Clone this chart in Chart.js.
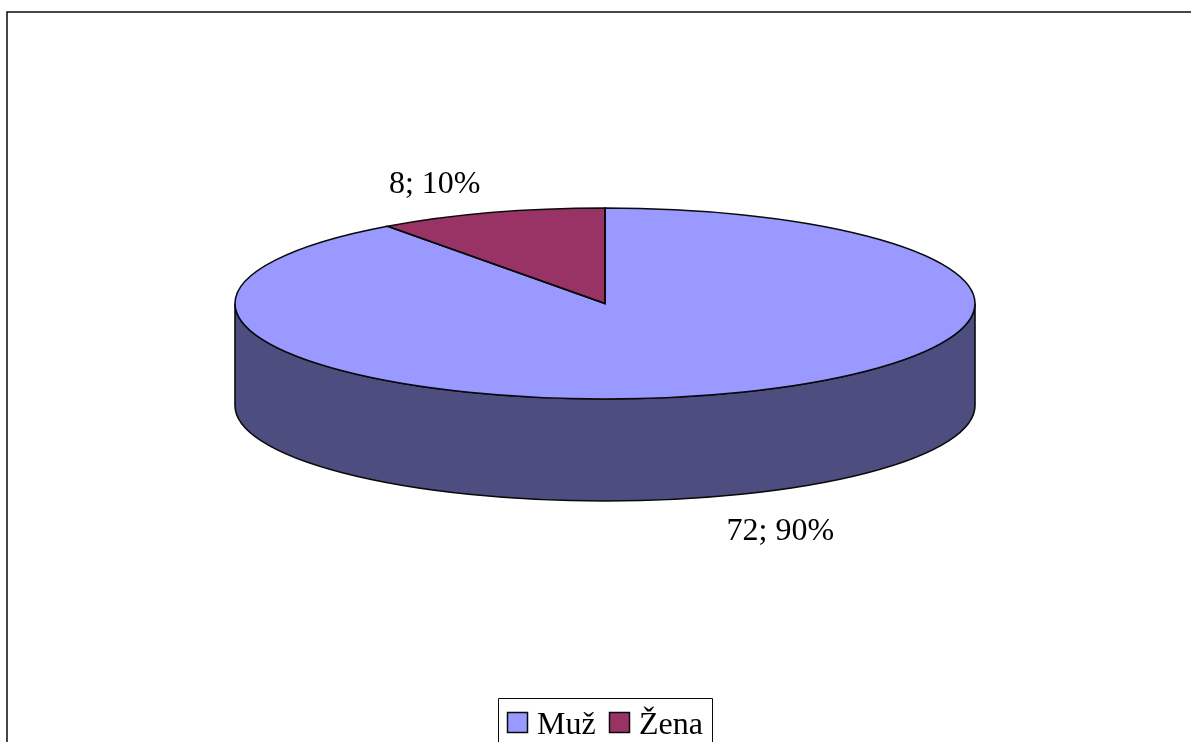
<!DOCTYPE html>
<html>
<head>
<meta charset="utf-8">
<style>
  html, body { margin: 0; padding: 0; background: #fff; overflow: hidden; }
  canvas { display: block; }
</style>
<script src="https://cdn.jsdelivr.net/npm/chart.js@4"></script>
</head>
<body>
<canvas id="chart" width="1191" height="742"></canvas>
<script>
var categories = ['Muž', 'Žena'];
var values = [72, 8];
var sliceColors = ['#9999ff', '#993366'];
var wallColors = ['#4d4d80', '#4d1a33'];
var labelOffsets = [[61, 43.5], [-56, -19.5]];

var FONT = '32px "Liberation Serif"';
var LINE = '#0a0a0a';
var centerX = 605, centerY = 303.5;
var radiusX = 370, radiusY = 95.5, depth = 102;

// the pie is flat in Chart.js, so squash it into an ellipse around our center
function project(ctx, arc) {
  ctx.translate(centerX, centerY);
  ctx.scale(1, radiusY / arc.outerRadius);
  ctx.translate(-arc.x, -arc.y);
}

var pie3d = {
  id: 'pie3d',
  beforeDatasetsDraw: function(chart) {
    let ctx = chart.ctx;
    // side wall, only the front half of the ellipse shows
    chart.getDatasetMeta(0).data.forEach(function(arc, i) {
      let a = Math.max(arc.startAngle, 0);
      let b = Math.min(arc.endAngle, Math.PI);
      if (a >= b) return;
      ctx.beginPath();
      ctx.ellipse(centerX, centerY, arc.outerRadius, radiusY, 0, a, b);
      ctx.ellipse(centerX, centerY + depth, arc.outerRadius, radiusY, 0, b, a, true);
      ctx.closePath();
      ctx.fillStyle = wallColors[i];
      ctx.fill();
      ctx.strokeStyle = LINE;
      ctx.lineWidth = 1.6;
      ctx.stroke();
    });
    ctx.save();
    project(ctx, chart.getDatasetMeta(0).data[0]);
  },
  afterDatasetsDraw: function(chart) {
    let ctx = chart.ctx;
    ctx.restore();
    let meta = chart.getDatasetMeta(0);
    let total = values.reduce(function(s, v) { return s + v; }, 0);
    meta.data.forEach(function(arc, i) {
      // build the outline under the squash, stroke it without, so the line width stays even
      ctx.save();
      project(ctx, arc);
      ctx.beginPath();
      ctx.moveTo(arc.x, arc.y);
      ctx.arc(arc.x, arc.y, arc.outerRadius, arc.startAngle, arc.endAngle);
      ctx.closePath();
      ctx.restore();
      ctx.strokeStyle = LINE;
      ctx.lineWidth = 1.6;
      ctx.stroke();

      // data label hangs off the middle of the slice rim
      let mid = (arc.startAngle + arc.endAngle) / 2;
      let rimX = centerX + Math.cos(mid) * arc.outerRadius;
      let rimY = centerY + Math.sin(mid) * radiusY + (Math.sin(mid) > 0 ? depth : 0);
      ctx.fillStyle = '#000';
      ctx.font = FONT;
      ctx.textAlign = 'center';
      ctx.textBaseline = 'alphabetic';
      ctx.fillText(values[i] + '; ' + Math.round(values[i] / total * 100) + '%',
        rimX + labelOffsets[i][0], rimY + labelOffsets[i][1]);
    });
  },
  afterDraw: function(chart) {
    let ctx = chart.ctx;
    ctx.strokeStyle = LINE;

    // chart frame, runs off the picture to the right and bottom
    ctx.lineWidth = 1.5;
    ctx.beginPath();
    ctx.moveTo(7, 742);
    ctx.lineTo(7, 12);
    ctx.lineTo(1191, 12);
    ctx.stroke();

    // legend box is cut by the bottom edge too
    ctx.lineWidth = 1;
    ctx.beginPath();
    ctx.moveTo(498.5, 742);
    ctx.lineTo(498.5, 698.5);
    ctx.lineTo(712.5, 698.5);
    ctx.lineTo(712.5, 742);
    ctx.stroke();

    let swatchX = [507.5, 609.5];
    let textX = [537, 639];
    ctx.font = FONT;
    ctx.textAlign = 'left';
    ctx.textBaseline = 'alphabetic';
    categories.forEach(function(name, i) {
      ctx.fillStyle = sliceColors[i];
      ctx.fillRect(swatchX[i], 712.5, 20, 20);
      ctx.lineWidth = 1.5;
      ctx.strokeRect(swatchX[i], 712.5, 20, 20);
      ctx.fillStyle = '#000';
      ctx.fillText(name, textX[i], 734);
    });
  }
};

var chart = new Chart(document.getElementById('chart').getContext('2d'), {
  type: 'pie',
  data: {
    labels: categories,
    datasets: [{
      data: values,
      backgroundColor: sliceColors,
      borderWidth: 0,
      clip: false
    }]
  },
  options: {
    responsive: false,
    animation: false,
    radius: radiusX,
    plugins: {
      legend: { display: false },
      tooltip: { enabled: false }
    }
  },
  plugins: [pie3d]
});
</script>
</body>
</html>
